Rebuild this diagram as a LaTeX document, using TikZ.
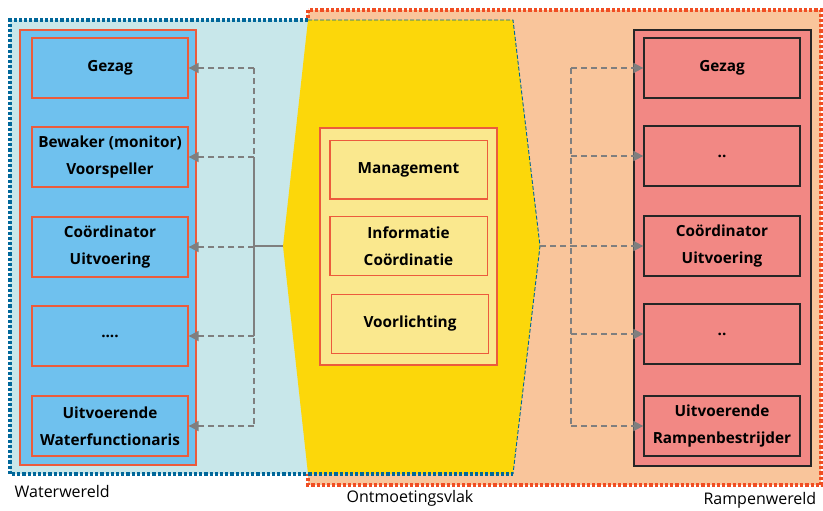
\documentclass[tikz,border=0pt]{standalone}
\usepackage{fontspec}
\setmainfont{Open Sans}
\usetikzlibrary{arrows.meta,positioning}
\definecolor{waterbg}{HTML}{C8E7EA}
\definecolor{waterbox}{HTML}{6FC1EE}
\definecolor{waterline}{HTML}{00679A}
\definecolor{rampbg}{HTML}{F9C59B}
\definecolor{rampbox}{HTML}{F28884}
\definecolor{rampline}{HTML}{F04E23}
\definecolor{meetbg}{HTML}{FCD70A}
\definecolor{meetbox}{HTML}{FAE88E}
\definecolor{redline}{HTML}{EC5B3C}
\definecolor{linkgray}{HTML}{7F7F7F}

\begin{document}
\begin{tikzpicture}[x=0.75pt,y=-0.75pt,
  box/.style={draw=redline,line width=1pt,minimum width=117pt,minimum height=45pt,
    align=center,font=\bfseries\fontsize{11.5}{20}\selectfont},
  wbox/.style={box,fill=waterbox},
  rbox/.style={box,fill=rampbox,draw=black!85},
  mbox/.style={box,fill=meetbox,minimum width=118pt,minimum height=44pt},
  dotline/.style={line width=2.4pt,dash pattern=on 2.4pt off 1.5pt},
  link/.style={draw=linkgray,line width=1.3pt,dash pattern=on 4.5pt off 3pt},
  arr/.style={link,-{Triangle[length=7.5pt,width=7.5pt]}},
  trunk/.style={draw=linkgray,line width=1.3pt},
  world/.style={font=\fontsize{12}{14}\selectfont}]
\useasboundingbox (0,0) rectangle (823,510);

% werelden
\fill[rampbg] (308,10) rectangle (821,485);
\draw[dotline,rampline] (308,10) rectangle (821,485);
\fill[waterbg] (10,20) rectangle (513,474);
\fill[meetbg] (308,20) -- (513,20) -- (540,246) -- (513,474) -- (308,474) -- (283,246) -- cycle;
\draw[dotline,waterline] (308,20) -- (10,20) -- (10,474) -- (513,474);
\draw[waterline,line width=0.7pt,dash pattern=on 3pt off 1.5pt] (308,20) -- (513,20) -- (540,246) -- (513,474);

% panelen
\draw[redline,line width=1pt,fill=waterbox] (20,30) rectangle (196,465);
\draw[black!85,line width=1pt,fill=rampbox] (634,30) rectangle (811,466);
\draw[redline,line width=1pt,fill=meetbox] (320,128) rectangle (497,365);

% waterwereld
\node[wbox] (l1) at (110,68) {Gezag};
\node[wbox] (l2) at (110,157) {Bewaker (monitor)\\Voorspeller};
\node[wbox] (l3) at (110,247) {Coördinator\\Uitvoering};
\node[wbox] (l4) at (110,336) {....};
\node[wbox] (l5) at (110,426) {Uitvoerende\\Waterfunctionaris};

% ontmoetingsvlak
\node[mbox] (m1) at (408.5,169.5) {Management};
\node[mbox] (m2) at (408.5,246) {Informatie\\Coördinatie};
\node[mbox] (m3) at (410,324) {Voorlichting};

% rampenwereld
\node[rbox] (r1) at (722,68) {Gezag};
\node[rbox] (r2) at (722,156) {..};
\node[rbox] (r3) at (722,246) {Coördinator\\Uitvoering};
\node[rbox] (r4) at (722,334) {..};
\node[rbox] (r5) at (722,426) {Uitvoerende\\Rampenbestrijder};

% verbindingen
\coordinate (wtip) at (283,246);
\coordinate (rtip) at (540,246);
\coordinate (lbus) at (254,246);
\coordinate (rbus) at (571,246);
\draw[trunk] (wtip) -- (lbus);
\draw[trunk] (lbus |- l2.east) -- (lbus |- l4.east);
\draw[link] (lbus |- l1.east) -- (lbus |- l5.east);
\foreach \n in {l1,l2,l3,l4,l5}
  \draw[arr] (lbus |- \n.east) -- (\n.east);
\draw[link] (rtip) -- (rbus);
\draw[link] (rbus |- r1.west) -- (rbus |- r5.west);
\foreach \n in {r1,r2,r3,r4,r5}
  \draw[arr] (rbus |- \n.west) -- (\n.west);

% namen
\node[world,anchor=west] (ww) at (10,491) {Waterwereld};
\node[world] (ov) at (410,498) {Ontmoetingsvlak};
\node[world,anchor=east] (rw) at (821,500) {Rampenwereld};
\end{tikzpicture}
\end{document}
